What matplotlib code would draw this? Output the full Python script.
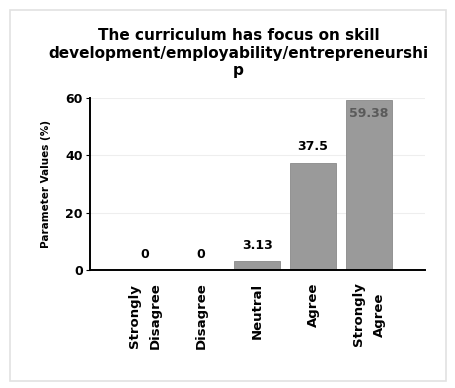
import matplotlib.pyplot as plt
from matplotlib.patches import Rectangle

categories = ['Strongly\nDisagree', 'Disagree', 'Neutral', 'Agree', 'Strongly\nAgree']
values = [0, 0, 3.13, 37.5, 59.38]
value_labels = ['0', '0', '3.13', '37.5', '59.38']
yticks = [0, 20, 40, 60]

fig = plt.figure(figsize=(4.56, 3.88), dpi=100)
fig.patch.set_facecolor('white')

# faint frame round the whole sheet
fig.patches.append(Rectangle((0.022, 0.018), 0.955, 0.955, transform=fig.transFigure,
                             fill=False, edgecolor='#e2e2e2', linewidth=1.2))

ax = fig.add_axes([0.197, 0.304, 0.735, 0.443])
x = list(range(len(categories)))
ax.bar(x, values, width=0.81, color='#9a9a9a', edgecolor='#8a8a8a', linewidth=0.6, zorder=2)

for xi, v, lab in zip(x, values, value_labels):
    if v > 55:
        ax.text(xi, v - 2.5, lab, ha='center', va='top', fontsize=9, fontweight='bold',
                color='#5a5a5a')
    else:
        ax.text(xi, v + 3.2, lab, ha='center', va='bottom', fontsize=9, fontweight='bold')

ax.set_xlim(-0.99, 5.0)
ax.set_ylim(0, 60)
ax.set_yticks(yticks)
ax.set_yticklabels([str(t) for t in yticks], fontsize=9, fontweight='bold')
ax.set_xticks(x)
ax.set_xticklabels(categories, rotation=90, fontsize=9.5, fontweight='bold',
                   va='top', ha='center', linespacing=1.75)
ax.tick_params(axis='x', length=0, pad=9)
ax.tick_params(axis='y', length=3, width=0.8, pad=2)
ax.set_ylabel('Parameter Values (%)', fontsize=7.5, fontweight='bold', labelpad=10)

ax.yaxis.grid(True, color='#eeeeee', linewidth=0.8, zorder=0)
ax.set_axisbelow(True)
for side in ['top', 'right']:
    ax.spines[side].set_visible(False)
ax.spines['left'].set_linewidth(1.4)
ax.spines['bottom'].set_linewidth(1.4)

fig.text(0.523, 0.927,
         'The curriculum has focus on skill\ndevelopment/employability/entrepreneurshi\np',
         ha='center', va='top', fontsize=11, fontweight='heavy', linespacing=1.2)

fig.savefig('out.png', dpi=100)
